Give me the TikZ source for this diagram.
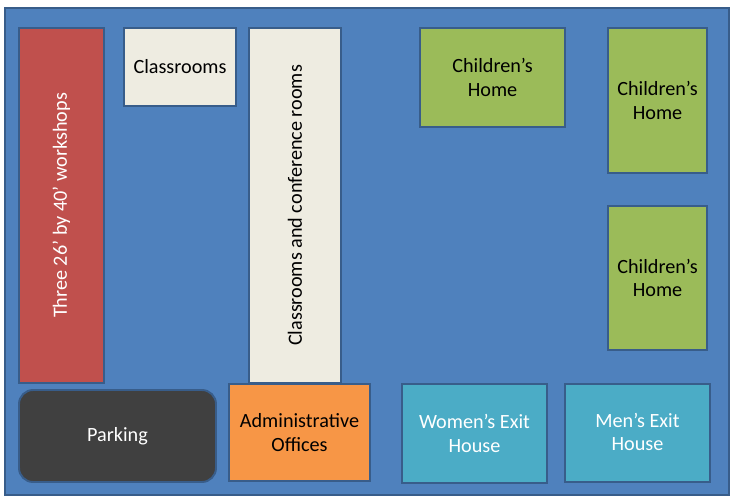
\documentclass[tikz,border=0pt]{standalone}
\usepackage{fontspec}
\setmainfont{Carlito}
\usepackage{xcolor}
\definecolor{siteblue}{RGB}{79,129,189}
\definecolor{siteedge}{RGB}{56,93,138}
\definecolor{shopred}{RGB}{192,80,77}
\definecolor{roombeige}{RGB}{238,236,225}
\definecolor{homegreen}{RGB}{155,187,89}
\definecolor{officeorange}{RGB}{247,150,70}
\definecolor{exitteal}{RGB}{75,172,198}
\definecolor{parkgrey}{RGB}{64,64,64}
\usepackage{tikz}
\usetikzlibrary{positioning}

\begin{document}
\begin{tikzpicture}[x=0.02cm, y=-0.02cm,
  block/.style={draw=siteedge, line width=1.1pt},
  label/.style={font=\fontsize{11.5}{13.5}\selectfont, align=center, inner sep=0pt}]

\useasboundingbox (0,0) rectangle (738,501);

% --- Site ---
\draw[block, fill=siteblue] (5,8) rectangle (729,495);

% --- Left column ---
\draw[block, fill=shopred] (19,28) rectangle (104,383);
\node[label, rotate=90, text=white] (workshops) at (61.5,205.5) {Three 26’ by 40’ workshops};

\draw[block, fill=roombeige] (124,28) rectangle (236,106);
\node[label] (classrooms) at (180,67) {Classrooms};

\draw[block, fill=roombeige] (249,28) rectangle (341,383);
\node[label, rotate=90] (conference) at (295,205.5) {Classrooms and conference rooms};

% --- Bottom row ---
\draw[block, fill=parkgrey, rounded corners=8pt] (19,390) rectangle (216,482);
\node[label, text=white] (parking) at (117.5,436) {Parking};

\draw[block, fill=officeorange] (229,384) rectangle (370,481);
\node[label] (offices) at (299.5,432.5) {Administrative\\Offices};

\draw[block, fill=exitteal] (402,384) rectangle (547,483);
\node[label, text=white] (womenexit) at (474.5,433.5) {Women’s Exit\\House};

\draw[block, fill=exitteal] (565,384) rectangle (710,482);
\node[label, text=white] (menexit) at (637.5,432) {Men’s Exit\\House};

% --- Children's homes ---
\draw[block, fill=homegreen] (420,28) rectangle (565,127);
\node[label] (homeA) at (492.5,77.5) {Children’s\\Home};

\draw[block, fill=homegreen] (608,28) rectangle (707,173);
\node[label] (homeB) at (657.5,100.5) {Children’s\\Home};

\draw[block, fill=homegreen] (608,206) rectangle (707,350);
\node[label] (homeC) at (657.5,278) {Children’s\\Home};

\end{tikzpicture}
\end{document}
